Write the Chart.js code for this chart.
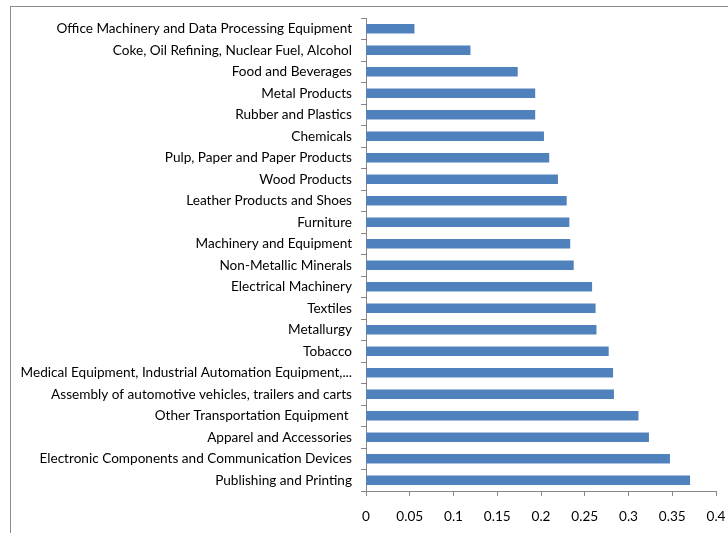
<!DOCTYPE html>
<html>
<head>
<meta charset="utf-8">
<script src="https://cdn.jsdelivr.net/npm/chart.js@4"></script>
<style>
html,body{margin:0;padding:0;background:#fff;}
#wrap{position:relative;width:728px;height:533px;}
#frame{position:absolute;left:10px;top:6px;width:730px;height:540px;border-left:1px solid #8c8c8c;border-top:1px solid #8c8c8c;box-sizing:border-box;pointer-events:none;}
canvas{position:absolute;left:0;top:0;}
</style>
</head>
<body>
<div id="wrap">
<canvas id="c" width="728" height="533"></canvas>
<div id="frame"></div>
</div>
<script>
const categories = [
  "Office Machinery and Data Processing Equipment",
  "Coke, Oil Refining, Nuclear Fuel, Alcohol",
  "Food and Beverages",
  "Metal Products",
  "Rubber and Plastics",
  "Chemicals",
  "Pulp, Paper and Paper Products",
  "Wood Products",
  "Leather Products and Shoes",
  "Furniture",
  "Machinery and Equipment",
  "Non-Metallic Minerals",
  "Electrical Machinery",
  "Textiles",
  "Metallurgy",
  "Tobacco",
  "Medical Equipment, Industrial Automation Equipment,...",
  "Assembly of automotive vehicles, trailers and carts",
  "Other Transportation Equipment ",
  "Apparel and Accessories",
  "Electronic Components and Communication Devices",
  "Publishing and Printing"
];
const values = [
  0.055, 0.119, 0.173, 0.193, 0.193, 0.203, 0.209, 0.219, 0.229, 0.232, 0.233,
  0.237, 0.258, 0.262, 0.263, 0.277, 0.282, 0.283, 0.311, 0.323, 0.347, 0.370
];
const xTicks = [0, 0.05, 0.1, 0.15, 0.2, 0.25, 0.3, 0.35, 0.4];

const FONT = "Lato, 'Open Sans', sans-serif";
Chart.defaults.font.family = FONT;
Chart.defaults.font.size = 13.6;
Chart.defaults.color = "#000";

new Chart(document.getElementById('c'), {
  type: 'bar',
  data: {
    labels: categories,
    datasets: [{
      data: values,
      backgroundColor: '#4F81BD',
      borderWidth: 0,
      barThickness: 9
    }]
  },
  options: {
    indexAxis: 'y',
    responsive: false,
    animation: false,
    devicePixelRatio: 1,
    layout: { padding: { left: 0, right: 12, top: 18, bottom: 0 } },
    plugins: { legend: { display: false }, tooltip: { enabled: false } },
    scales: {
      y: {
        type: 'category',
        offset: true,
        afterFit: s => { s.width = 366; },
        grid: { display: true, drawOnChartArea: false, offset: true, tickLength: 5, color: '#868686' },
        border: { display: true, color: '#868686', width: 1 },
        ticks: { padding: 9, color: '#000', autoSkip: false, font: { size: 13.6, family: FONT } }
      },
      x: {
        type: 'linear',
        min: 0,
        max: 0.4,
        afterFit: s => { s.height = 42; s.paddingRight = 0; s.paddingLeft = 0; },
        afterBuildTicks: s => { s.ticks = xTicks.map(v => ({ value: v })); },
        grid: { display: true, drawOnChartArea: false, tickLength: 5, color: '#868686' },
        border: { display: true, color: '#868686', width: 1 },
        ticks: { padding: 12, color: '#000', font: { size: 13.6, family: FONT }, callback: v => String(+v.toFixed(2)) }
      }
    }
  }
});
</script>
</body>
</html>
